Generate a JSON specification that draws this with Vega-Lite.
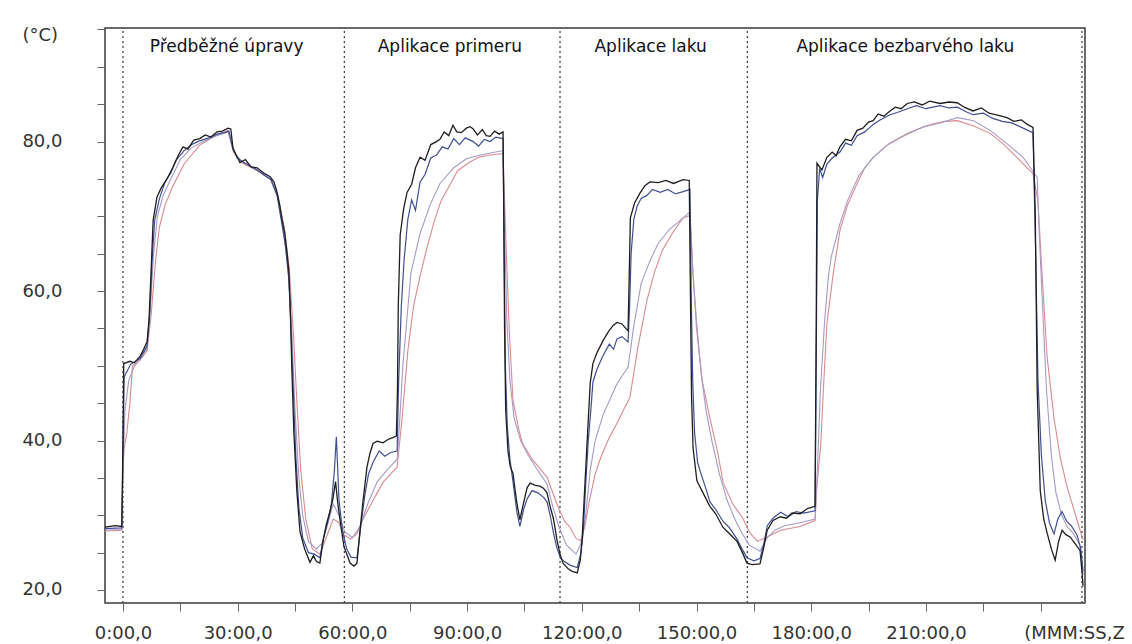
{
 "$schema": "https://vega.github.io/schema/vega-lite/v6.json",
 "width": 980, "height": 575,
 "autosize": {"type": "none"},
 "padding": {"left": 105, "top": 28, "right": 47, "bottom": 41},
 "background": "white",
 "config": {"view": {"stroke": "#3a3a3a", "strokeWidth": 1.5}, "font": "DejaVu Sans"},
 "datasets": {
  "phases": [{"t": 0}, {"t": 57.9}, {"t": 114.3}, {"t": 163.3}, {"t": 250.8}],
  "titles": [
   {"t": 27.1, "label": "Předběžné úpravy"},
   {"t": 85.5, "label": "Aplikace primeru"},
   {"t": 138.0, "label": "Aplikace laku"},
   {"t": 204.6, "label": "Aplikace bezbarvého laku"}
  ],
  "black": [
   {"t":-4.7,"v":28.4},{"t":-2,"v":28.6},{"t":-0.3,"v":28.5},{"t":0,"v":40},{"t":0.2,"v":50.3},{"t":1.8,"v":50.6},{"t":3,"v":50.4},{"t":4.5,"v":51.3},{"t":5.5,"v":52.3},{"t":6.3,"v":53.2},{"t":6.8,"v":56},{"t":7.3,"v":62},{"t":7.9,"v":69.5},{"t":8.9,"v":72.6},{"t":10,"v":73.8},{"t":11.5,"v":75},{"t":13,"v":76.5},{"t":14.5,"v":78.2},{"t":15.7,"v":79.3},{"t":17,"v":79.0},{"t":18.5,"v":80.2},{"t":20.1,"v":80.4},{"t":21.5,"v":80.9},{"t":23,"v":80.6},{"t":24.6,"v":81.3},{"t":26,"v":81.4},{"t":27.5,"v":81.8},{"t":28.2,"v":81.7},{"t":28.8,"v":79.0},{"t":29.6,"v":78.2},{"t":30.6,"v":77.2},{"t":32,"v":77.6},{"t":33.5,"v":76.6},{"t":35.1,"v":76.5},{"t":36.8,"v":75.8},{"t":38.5,"v":75.3},{"t":39.5,"v":74.6},{"t":40.3,"v":73.2},{"t":41.0,"v":71.5},{"t":41.6,"v":69.6},{"t":42.3,"v":67.8},{"t":42.9,"v":65.2},{"t":43.4,"v":62.5},{"t":43.8,"v":57},{"t":44.2,"v":49},{"t":44.7,"v":41},{"t":45.5,"v":33},{"t":46.3,"v":27.8},{"t":47.5,"v":25.5},{"t":48.9,"v":23.7},{"t":49.8,"v":24.6},{"t":50.6,"v":23.8},{"t":51.5,"v":23.6},{"t":52.3,"v":26.5},{"t":53.2,"v":28.8},{"t":54.1,"v":30.4},{"t":54.9,"v":32.2},{"t":55.6,"v":34.5},{"t":56.2,"v":31.5},{"t":57.0,"v":28.5},{"t":57.8,"v":25.8},{"t":59.4,"v":23.6},{"t":60.4,"v":23.2},{"t":61.2,"v":23.6},{"t":62,"v":28},{"t":62.8,"v":32},{"t":63.8,"v":36.4},{"t":64.6,"v":38.3},{"t":65.4,"v":39.6},{"t":66.5,"v":39.9},{"t":68,"v":39.7},{"t":69.5,"v":40.2},{"t":70.6,"v":40.4},{"t":71.5,"v":40.6},{"t":71.8,"v":47},{"t":72.0,"v":58},{"t":72.5,"v":67.5},{"t":73.4,"v":71},{"t":74.3,"v":73.2},{"t":75.5,"v":74.3},{"t":76.5,"v":76.5},{"t":77.7,"v":77.9},{"t":79,"v":77.5},{"t":80.5,"v":79.6},{"t":82.0,"v":80.0},{"t":82.9,"v":80.3},{"t":84,"v":81.3},{"t":85.2,"v":80.8},{"t":86.3,"v":82.2},{"t":87.3,"v":81.3},{"t":88.5,"v":81.2},{"t":89.8,"v":81.8},{"t":90.8,"v":82.0},{"t":91.6,"v":81.7},{"t":92.7,"v":80.9},{"t":94,"v":81.6},{"t":95,"v":80.8},{"t":96.0,"v":80.7},{"t":97.2,"v":81.4},{"t":98.4,"v":81.0},{"t":99.4,"v":81.3},{"t":99.6,"v":70},{"t":99.8,"v":55},{"t":100.1,"v":44},{"t":100.7,"v":38.5},{"t":101.3,"v":36.5},{"t":102.0,"v":35.6},{"t":102.9,"v":32},{"t":103.8,"v":29.4},{"t":104.7,"v":31.5},{"t":105.7,"v":33.7},{"t":106.5,"v":34.3},{"t":107.8,"v":34.0},{"t":109.1,"v":33.9},{"t":110.0,"v":33.6},{"t":110.9,"v":33.0},{"t":111.8,"v":31},{"t":112.6,"v":29.5},{"t":113.5,"v":26.7},{"t":114.3,"v":24.8},{"t":115.1,"v":23.6},{"t":116.5,"v":22.8},{"t":117.5,"v":22.5},{"t":118.8,"v":22.3},{"t":119.6,"v":24},{"t":120.1,"v":27},{"t":120.6,"v":32},{"t":121.2,"v":38},{"t":122.2,"v":47.7},{"t":122.9,"v":50.3},{"t":124,"v":51.8},{"t":125.6,"v":53.4},{"t":127,"v":54.6},{"t":128.2,"v":55.4},{"t":129.2,"v":55.8},{"t":130.5,"v":55.6},{"t":131.5,"v":55},{"t":132.1,"v":54.7},{"t":132.4,"v":62},{"t":132.7,"v":69.8},{"t":133.8,"v":71.8},{"t":135.2,"v":73.1},{"t":136.5,"v":74.1},{"t":137.8,"v":74.6},{"t":140,"v":74.5},{"t":142,"v":74.8},{"t":144,"v":74.4},{"t":146.5,"v":74.9},{"t":148.1,"v":74.8},{"t":148.4,"v":60},{"t":148.7,"v":46},{"t":149.1,"v":39},{"t":150.1,"v":34.6},{"t":151.5,"v":33.2},{"t":153.5,"v":31.2},{"t":155.0,"v":30.2},{"t":156.9,"v":28.4},{"t":158.5,"v":27.6},{"t":160.6,"v":26.5},{"t":162,"v":25},{"t":163.2,"v":23.6},{"t":164.5,"v":23.4},{"t":166.6,"v":23.5},{"t":167.5,"v":25.5},{"t":168.5,"v":28.0},{"t":170,"v":29.3},{"t":171.9,"v":29.8},{"t":173.5,"v":29.6},{"t":175,"v":30.3},{"t":177.1,"v":30.2},{"t":179,"v":30.9},{"t":181.0,"v":31.2},{"t":181.3,"v":55},{"t":181.5,"v":77.1},{"t":182.8,"v":76.2},{"t":184.1,"v":77.9},{"t":185.5,"v":78.6},{"t":186.5,"v":78.1},{"t":187.5,"v":79.3},{"t":189,"v":80.3},{"t":190.5,"v":80.1},{"t":192.0,"v":81.5},{"t":193.5,"v":81.8},{"t":195,"v":82.6},{"t":196.2,"v":82.8},{"t":197.5,"v":83.7},{"t":199,"v":83.4},{"t":200.6,"v":84.1},{"t":202,"v":84.6},{"t":203.5,"v":84.4},{"t":205.1,"v":85.1},{"t":207,"v":85.3},{"t":209,"v":84.9},{"t":211,"v":85.4},{"t":213.7,"v":85.1},{"t":216,"v":85.3},{"t":218.2,"v":85.2},{"t":220,"v":84.6},{"t":222.3,"v":84.1},{"t":224.5,"v":84.5},{"t":226.5,"v":83.8},{"t":229,"v":83.5},{"t":231.2,"v":83.2},{"t":233,"v":82.7},{"t":235,"v":82.9},{"t":236.5,"v":82.3},{"t":238.0,"v":81.9},{"t":238.6,"v":70},{"t":239.1,"v":46.7},{"t":239.9,"v":33.3},{"t":240.8,"v":29.5},{"t":241.7,"v":27.6},{"t":242.8,"v":25.5},{"t":243.8,"v":24.0},{"t":244.7,"v":26.5},{"t":245.6,"v":28.0},{"t":246.6,"v":27.4},{"t":247.7,"v":27.1},{"t":249,"v":26.2},{"t":250.3,"v":25.3},{"t":250.8,"v":22.5},{"t":251.1,"v":20.5}
  ],
  "blue": [
   {"t":-4.7,"v":28.2},{"t":-0.3,"v":28.3},{"t":0,"v":38},{"t":0.3,"v":48.5},{"t":2,"v":50.2},{"t":4.5,"v":51},{"t":6.3,"v":52.6},{"t":7.0,"v":57},{"t":7.6,"v":64},{"t":8.3,"v":69.5},{"t":9.5,"v":72.3},{"t":11,"v":74.6},{"t":12.5,"v":75.8},{"t":14,"v":77.6},{"t":16,"v":78.8},{"t":18,"v":79.6},{"t":20,"v":80.1},{"t":22.5,"v":80.5},{"t":24.6,"v":81},{"t":26.5,"v":81.2},{"t":27.7,"v":81.4},{"t":28.6,"v":79.4},{"t":29.8,"v":77.9},{"t":31,"v":77.4},{"t":33,"v":76.8},{"t":35.1,"v":76.2},{"t":37,"v":75.5},{"t":38.8,"v":74.9},{"t":40.3,"v":72.8},{"t":41.5,"v":69.2},{"t":42.5,"v":66},{"t":43.4,"v":61.5},{"t":44.0,"v":54},{"t":44.6,"v":46},{"t":45.2,"v":38},{"t":46.0,"v":31},{"t":47.0,"v":27},{"t":48.5,"v":25},{"t":50,"v":24.8},{"t":51.5,"v":24.3},{"t":52.4,"v":26.8},{"t":53.5,"v":29},{"t":54.5,"v":31.5},{"t":55.3,"v":36},{"t":55.8,"v":40.5},{"t":56.1,"v":37},{"t":56.5,"v":32},{"t":57.4,"v":28},{"t":58.5,"v":25.5},{"t":59.6,"v":24.4},{"t":61.2,"v":24.3},{"t":62.2,"v":28.5},{"t":63.2,"v":32.5},{"t":64.2,"v":35.5},{"t":65.5,"v":37.2},{"t":67,"v":38.6},{"t":68.5,"v":37.9},{"t":70,"v":38.4},{"t":71.7,"v":38.6},{"t":72.1,"v":48},{"t":72.8,"v":58},{"t":73.5,"v":64},{"t":74.5,"v":69.6},{"t":75.5,"v":72.2},{"t":76.5,"v":70.8},{"t":77.7,"v":74.6},{"t":79,"v":75.6},{"t":80.5,"v":77.8},{"t":82.0,"v":78.2},{"t":83.5,"v":79.3},{"t":85,"v":79.0},{"t":86.5,"v":80.4},{"t":88,"v":79.6},{"t":89.5,"v":80.5},{"t":91.6,"v":80.0},{"t":93,"v":79.4},{"t":94.5,"v":80.3},{"t":96,"v":80.0},{"t":97.5,"v":80.6},{"t":99.4,"v":80.4},{"t":99.7,"v":65},{"t":100.0,"v":50},{"t":100.5,"v":42},{"t":101.2,"v":37.5},{"t":102,"v":34.5},{"t":103,"v":30.5},{"t":103.8,"v":28.5},{"t":104.8,"v":30.8},{"t":105.7,"v":32.2},{"t":107,"v":33.3},{"t":108.5,"v":33.0},{"t":110,"v":32.4},{"t":110.9,"v":31.8},{"t":111.8,"v":29.8},{"t":112.6,"v":27.6},{"t":113.5,"v":25.6},{"t":114.5,"v":24.2},{"t":115.5,"v":23.8},{"t":117,"v":23.3},{"t":118.8,"v":23.0},{"t":119.8,"v":25},{"t":120.4,"v":28},{"t":121.0,"v":34},{"t":121.7,"v":40},{"t":122.5,"v":45},{"t":122.9,"v":47.8},{"t":124,"v":49.6},{"t":125.6,"v":51.4},{"t":127.2,"v":52.9},{"t":128.3,"v":52.2},{"t":129.2,"v":53.6},{"t":130.5,"v":53.9},{"t":132.1,"v":53.2},{"t":132.5,"v":58},{"t":132.9,"v":65},{"t":133.6,"v":69.6},{"t":134.5,"v":71.4},{"t":135.5,"v":72.4},{"t":137,"v":72.8},{"t":138.5,"v":73.6},{"t":140.5,"v":73.2},{"t":142.5,"v":73.6},{"t":144.5,"v":73.0},{"t":146.5,"v":73.3},{"t":148.3,"v":73.6},{"t":148.6,"v":60},{"t":149.0,"v":48},{"t":149.5,"v":41},{"t":150.3,"v":37},{"t":151.2,"v":35.5},{"t":152.5,"v":33.5},{"t":153.5,"v":31.8},{"t":155,"v":30.8},{"t":156.9,"v":29.2},{"t":158.5,"v":28.4},{"t":160.6,"v":26.8},{"t":162,"v":25.4},{"t":163.2,"v":24.3},{"t":165,"v":23.9},{"t":166.6,"v":24.2},{"t":167.6,"v":26.2},{"t":168.5,"v":28.6},{"t":170,"v":29.6},{"t":172,"v":30.4},{"t":174,"v":29.8},{"t":176,"v":30.5},{"t":178,"v":30.3},{"t":181.0,"v":30.6},{"t":181.3,"v":50},{"t":181.6,"v":72},{"t":182.2,"v":76.4},{"t":183,"v":75.2},{"t":184.1,"v":77.0},{"t":185.5,"v":77.8},{"t":187.5,"v":78.6},{"t":189,"v":79.8},{"t":190.5,"v":79.5},{"t":192,"v":80.8},{"t":194,"v":81.3},{"t":196.2,"v":82.3},{"t":198,"v":82.9},{"t":200.6,"v":83.6},{"t":202.5,"v":83.9},{"t":205.1,"v":84.4},{"t":207.5,"v":84.8},{"t":210,"v":84.4},{"t":213.7,"v":84.8},{"t":216,"v":84.5},{"t":218.2,"v":84.6},{"t":220.5,"v":84.0},{"t":222.3,"v":83.6},{"t":225,"v":83.8},{"t":227.5,"v":83.1},{"t":230,"v":82.7},{"t":232.5,"v":82.5},{"t":235,"v":81.9},{"t":238.0,"v":81.2},{"t":238.7,"v":65},{"t":239.3,"v":48},{"t":240.2,"v":38},{"t":241.2,"v":32},{"t":242.3,"v":29},{"t":243.5,"v":27.5},{"t":244.5,"v":29.5},{"t":245.6,"v":30.5},{"t":246.8,"v":29.2},{"t":248,"v":28.6},{"t":249.5,"v":27.4},{"t":250.5,"v":25.5},{"t":251.1,"v":22.5}
  ],
  "purple": [
   {"t":-4.7,"v":28.0},{"t":-0.3,"v":28.1},{"t":0,"v":36},{"t":0.5,"v":44},{"t":1.5,"v":48},{"t":3,"v":50},{"t":4.5,"v":50.8},{"t":6.3,"v":52.2},{"t":7.2,"v":58},{"t":8,"v":65},{"t":9,"v":70},{"t":10.5,"v":72.8},{"t":12.5,"v":75},{"t":15,"v":77.6},{"t":18,"v":79.2},{"t":21,"v":80},{"t":24.6,"v":80.8},{"t":27.5,"v":81.3},{"t":28.8,"v":78.8},{"t":31,"v":77.3},{"t":35.1,"v":76.2},{"t":38.5,"v":75},{"t":40.5,"v":72.5},{"t":42,"v":68},{"t":43.2,"v":63},{"t":44.2,"v":54},{"t":45,"v":44},{"t":46,"v":35},{"t":47,"v":30},{"t":48.5,"v":26.5},{"t":50.5,"v":25.5},{"t":52,"v":26.2},{"t":53.5,"v":28.8},{"t":55,"v":31.5},{"t":56.5,"v":30},{"t":58,"v":27.8},{"t":60,"v":27},{"t":62,"v":28.5},{"t":64,"v":31.5},{"t":66.5,"v":34.5},{"t":69,"v":36},{"t":71.7,"v":37.5},{"t":72.3,"v":42},{"t":73.2,"v":50},{"t":74.3,"v":56.5},{"t":75.3,"v":62.4},{"t":77.7,"v":67.7},{"t":80.3,"v":71.5},{"t":82.9,"v":74.4},{"t":86.5,"v":76.5},{"t":89.8,"v":77.7},{"t":93.5,"v":78.2},{"t":96.5,"v":78.5},{"t":99.4,"v":78.8},{"t":99.8,"v":68},{"t":100.4,"v":56},{"t":101.2,"v":48},{"t":102.3,"v":43},{"t":104,"v":40},{"t":106,"v":38},{"t":108.5,"v":36},{"t":110.9,"v":34.2},{"t":112.5,"v":31},{"t":114,"v":28.5},{"t":116,"v":26},{"t":118.5,"v":24.8},{"t":120,"v":26.5},{"t":121,"v":30},{"t":122.2,"v":36},{"t":123.5,"v":40},{"t":125.6,"v":43.5},{"t":127.8,"v":46},{"t":129.2,"v":47.6},{"t":131,"v":49},{"t":132.1,"v":49.8},{"t":133.5,"v":55},{"t":135.5,"v":61},{"t":137.8,"v":64},{"t":140,"v":66.4},{"t":143,"v":68.3},{"t":146.5,"v":69.8},{"t":148.3,"v":70.6},{"t":149,"v":63},{"t":150,"v":56},{"t":151.2,"v":49},{"t":152.5,"v":44},{"t":154,"v":40},{"t":156,"v":35.5},{"t":158,"v":32},{"t":160,"v":29.5},{"t":162,"v":27.5},{"t":163.8,"v":26},{"t":166.6,"v":25.2},{"t":168.5,"v":27},{"t":170.5,"v":28},{"t":173,"v":28.6},{"t":177,"v":29},{"t":181,"v":29.5},{"t":181.6,"v":36},{"t":182.4,"v":46.7},{"t":183.5,"v":56},{"t":184.5,"v":62},{"t":185.2,"v":64.5},{"t":187.5,"v":69},{"t":189.5,"v":72.1},{"t":192.5,"v":75.5},{"t":196.2,"v":77.9},{"t":200.5,"v":79.8},{"t":205.1,"v":81.1},{"t":209.5,"v":82},{"t":213.7,"v":82.5},{"t":218.2,"v":83.2},{"t":222.5,"v":82.8},{"t":226.8,"v":81.5},{"t":231,"v":79.8},{"t":235.4,"v":77.9},{"t":238,"v":76},{"t":239.1,"v":75.2},{"t":239.6,"v":68},{"t":240.5,"v":58},{"t":241.5,"v":47},{"t":242.8,"v":38},{"t":244,"v":33},{"t":245.5,"v":30},{"t":247,"v":28.4},{"t":248.5,"v":27.6},{"t":250.3,"v":26},{"t":251.1,"v":22}
  ],
  "red": [
   {"t":-4.7,"v":27.9},{"t":-0.3,"v":28},{"t":0,"v":36},{"t":0.3,"v":39},{"t":1,"v":41},{"t":1.8,"v":45},{"t":2.5,"v":50},{"t":4.5,"v":50.8},{"t":6.3,"v":52},{"t":7.4,"v":57},{"t":8.5,"v":64},{"t":9.5,"v":68.5},{"t":11,"v":71.5},{"t":13,"v":74},{"t":16,"v":77},{"t":20,"v":79.5},{"t":24.6,"v":80.9},{"t":27.5,"v":81.5},{"t":28.9,"v":78.6},{"t":31,"v":77.2},{"t":35.1,"v":76.1},{"t":38.5,"v":75},{"t":40.5,"v":72.8},{"t":42.2,"v":68.5},{"t":43.5,"v":63},{"t":44.6,"v":54},{"t":45.5,"v":45},{"t":46.5,"v":36},{"t":47.8,"v":29.5},{"t":49.5,"v":25.5},{"t":51.5,"v":24.8},{"t":53,"v":26.8},{"t":55,"v":29.5},{"t":56.5,"v":29},{"t":57.8,"v":27.4},{"t":59.5,"v":26.8},{"t":61.2,"v":27.5},{"t":62.8,"v":29.5},{"t":65.4,"v":32},{"t":68,"v":34.4},{"t":70.5,"v":35.8},{"t":71.7,"v":36.4},{"t":73,"v":43},{"t":74.5,"v":52},{"t":76,"v":58},{"t":77.7,"v":62},{"t":79.5,"v":65.8},{"t":81.5,"v":69.5},{"t":83.2,"v":72.1},{"t":85.5,"v":74.2},{"t":87.5,"v":76.1},{"t":90.5,"v":77.2},{"t":93,"v":77.9},{"t":96,"v":78.2},{"t":99.4,"v":78.4},{"t":100.2,"v":66},{"t":101,"v":55},{"t":102,"v":45.4},{"t":103.5,"v":41.5},{"t":104.5,"v":39.6},{"t":107,"v":37.5},{"t":110.9,"v":35.1},{"t":113.5,"v":31.5},{"t":115.5,"v":29.2},{"t":116.9,"v":28.4},{"t":118.5,"v":26.9},{"t":119.7,"v":26.6},{"t":120.8,"v":28.5},{"t":122,"v":32},{"t":123.5,"v":35.5},{"t":125,"v":37.8},{"t":127,"v":40.2},{"t":129.2,"v":42.3},{"t":131,"v":44.2},{"t":132.6,"v":45.8},{"t":134.5,"v":52},{"t":137,"v":58.7},{"t":139,"v":62.5},{"t":141,"v":65.4},{"t":144,"v":68},{"t":146.5,"v":69.8},{"t":148.3,"v":70.1},{"t":149.1,"v":62},{"t":150,"v":55},{"t":151.5,"v":48},{"t":153.5,"v":43},{"t":155.5,"v":38.5},{"t":157,"v":34.3},{"t":159.5,"v":31.5},{"t":162,"v":29.7},{"t":164,"v":27.6},{"t":166,"v":26.5},{"t":168,"v":27},{"t":172,"v":28},{"t":177,"v":28.5},{"t":181,"v":29.3},{"t":181.5,"v":34},{"t":182.5,"v":39.6},{"t":183.3,"v":48},{"t":184.1,"v":55.7},{"t":185.8,"v":62.5},{"t":187.5,"v":68.1},{"t":189.5,"v":71.5},{"t":192,"v":74.4},{"t":194,"v":76.5},{"t":196.2,"v":77.9},{"t":199.5,"v":79.4},{"t":203.3,"v":80.5},{"t":207.5,"v":81.6},{"t":211.9,"v":82.4},{"t":215,"v":82.7},{"t":218.2,"v":82.8},{"t":222.5,"v":82.1},{"t":226.8,"v":81.1},{"t":230,"v":79.8},{"t":232.8,"v":78.4},{"t":235.5,"v":77},{"t":238,"v":75.7},{"t":239.3,"v":72},{"t":240.4,"v":62},{"t":241.7,"v":51.1},{"t":243.5,"v":43},{"t":245.1,"v":37.8},{"t":246.8,"v":34},{"t":248.5,"v":31.1},{"t":250,"v":28.5},{"t":251.1,"v":26.7}
  ]
 },
 "layer": [
  {
   "data": {"name": "phases"},
   "mark": {"type": "rule", "stroke": "#444", "strokeWidth": 1.3, "strokeDash": [2, 3]},
   "encoding": {
    "x": {
     "field": "t", "type": "quantitative",
     "scale": {"domain": [-4.7, 251.6], "nice": false, "zero": false},
     "axis": {
      "title": null, "grid": false, "domain": false,
      "values": [0, 15, 30, 45, 60, 75, 90, 105, 120, 135, 150, 165, 180, 195, 210, 225, 240],
      "labelExpr": "datum.value % 30 === 0 ? (datum.value === 240 ? '(MMM:SS,Z' : datum.value + ':00,0') : ''",
      "tickSize": 8, "tickColor": "#666", "tickWidth": 1,
      "labelFont": "DejaVu Sans", "labelFontSize": 18, "labelColor": "#333",
      "labelPadding": 13, "labelOverlap": false, "labelFlush": false, "labelBound": false,
      "labelAlign": {"condition": {"test": "datum.value === 240", "value": "left"}, "value": "center"},
      "labelOffset": {"condition": {"test": "datum.value === 240", "value": -17}, "value": 0}
     }
    },
    "y": {
     "datum": 18.26, "type": "quantitative",
     "scale": {"domain": [18.26, 95.2], "nice": false, "zero": false},
     "axis": {
      "title": "(°C)", "titleAngle": 0, "titleAlign": "left", "titleBaseline": "middle",
      "titleX": -83, "titleY": 7, "titleFont": "DejaVu Sans", "titleFontSize": 18,
      "titleFontWeight": "normal", "titleColor": "#333",
      "grid": false, "domain": false,
      "values": [20, 25, 30, 35, 40, 45, 50, 55, 60, 65, 70, 75, 80, 85, 90, 95],
      "labelExpr": "datum.value % 20 === 0 ? replace(format(datum.value, '.1f'), '.', ',') : ''",
      "tickSize": 8, "tickColor": "#666", "tickWidth": 1,
      "labelFont": "DejaVu Sans", "labelFontSize": 18, "labelColor": "#333",
      "labelPadding": 35, "labelOverlap": false, "labelBound": false
     }
    },
    "y2": {"datum": 95.2}
   }
  },
  {
   "encoding": {
    "x": {
     "field": "t", "type": "quantitative",
     "scale": {"domain": [-4.7, 251.6], "nice": false, "zero": false},
     "axis": {
      "title": null, "grid": false, "domain": false,
      "values": [0, 15, 30, 45, 60, 75, 90, 105, 120, 135, 150, 165, 180, 195, 210, 225, 240],
      "labelExpr": "datum.value % 30 === 0 ? (datum.value === 240 ? '(MMM:SS,Z' : datum.value + ':00,0') : ''",
      "tickSize": 8, "tickColor": "#666", "tickWidth": 1,
      "labelFont": "DejaVu Sans", "labelFontSize": 18, "labelColor": "#333",
      "labelPadding": 13, "labelOverlap": false, "labelFlush": false, "labelBound": false,
      "labelAlign": {"condition": {"test": "datum.value === 240", "value": "left"}, "value": "center"},
      "labelOffset": {"condition": {"test": "datum.value === 240", "value": -17}, "value": 0}
     }
    },
    "y": {
     "field": "v", "type": "quantitative",
     "scale": {"domain": [18.26, 95.2], "nice": false, "zero": false},
     "axis": {
      "title": "(°C)", "titleAngle": 0, "titleAlign": "left", "titleBaseline": "middle",
      "titleX": -83, "titleY": 7, "titleFont": "DejaVu Sans", "titleFontSize": 18,
      "titleFontWeight": "normal", "titleColor": "#333",
      "grid": false, "domain": false,
      "values": [20, 25, 30, 35, 40, 45, 50, 55, 60, 65, 70, 75, 80, 85, 90, 95],
      "labelExpr": "datum.value % 20 === 0 ? replace(format(datum.value, '.1f'), '.', ',') : ''",
      "tickSize": 8, "tickColor": "#666", "tickWidth": 1,
      "labelFont": "DejaVu Sans", "labelFontSize": 18, "labelColor": "#333",
      "labelPadding": 35, "labelOverlap": false, "labelBound": false
     }
    }
   },
   "layer": [
    {"data": {"name": "red"}, "mark": {"type": "line", "stroke": "#dc8a8f", "strokeWidth": 1.1}},
    {"data": {"name": "purple"}, "mark": {"type": "line", "stroke": "#a49ac9", "strokeWidth": 1.1}},
    {"data": {"name": "blue"}, "mark": {"type": "line", "stroke": "#3f4f93", "strokeWidth": 1.2}},
    {"data": {"name": "black"}, "mark": {"type": "line", "stroke": "#1e1e1e", "strokeWidth": 1.3}}
   ]
  },
  {
   "data": {"name": "titles"},
   "mark": {"type": "text", "font": "DejaVu Sans", "fontSize": 17, "color": "#111", "baseline": "middle", "align": "center"},
   "encoding": {
    "x": {
     "field": "t", "type": "quantitative",
     "scale": {"domain": [-4.7, 251.6], "nice": false, "zero": false},
     "axis": {
      "title": null, "grid": false, "domain": false,
      "values": [0, 15, 30, 45, 60, 75, 90, 105, 120, 135, 150, 165, 180, 195, 210, 225, 240],
      "labelExpr": "datum.value % 30 === 0 ? (datum.value === 240 ? '(MMM:SS,Z' : datum.value + ':00,0') : ''",
      "tickSize": 8, "tickColor": "#666", "tickWidth": 1,
      "labelFont": "DejaVu Sans", "labelFontSize": 18, "labelColor": "#333",
      "labelPadding": 13, "labelOverlap": false, "labelFlush": false, "labelBound": false,
      "labelAlign": {"condition": {"test": "datum.value === 240", "value": "left"}, "value": "center"},
      "labelOffset": {"condition": {"test": "datum.value === 240", "value": -17}, "value": 0}
     }
    },
    "y": {
     "datum": 92.7, "type": "quantitative",
     "scale": {"domain": [18.26, 95.2], "nice": false, "zero": false},
     "axis": {
      "title": "(°C)", "titleAngle": 0, "titleAlign": "left", "titleBaseline": "middle",
      "titleX": -83, "titleY": 7, "titleFont": "DejaVu Sans", "titleFontSize": 18,
      "titleFontWeight": "normal", "titleColor": "#333",
      "grid": false, "domain": false,
      "values": [20, 25, 30, 35, 40, 45, 50, 55, 60, 65, 70, 75, 80, 85, 90, 95],
      "labelExpr": "datum.value % 20 === 0 ? replace(format(datum.value, '.1f'), '.', ',') : ''",
      "tickSize": 8, "tickColor": "#666", "tickWidth": 1,
      "labelFont": "DejaVu Sans", "labelFontSize": 18, "labelColor": "#333",
      "labelPadding": 35, "labelOverlap": false, "labelBound": false
     }
    },
    "text": {"field": "label"}
   }
  }
 ]
}
